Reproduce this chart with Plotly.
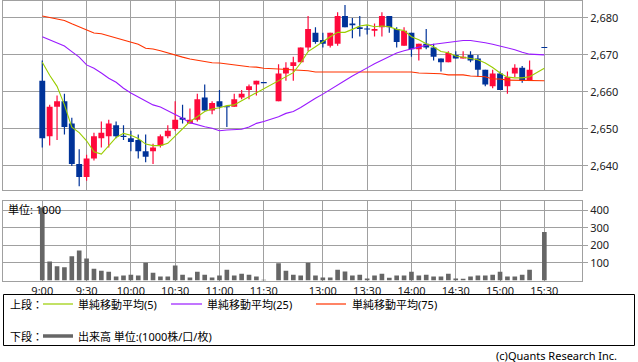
import plotly.graph_objects as go

# ---------------- data ----------------
times = [
    "9:00", "9:05", "9:10", "9:15", "9:20", "9:25", "9:30", "9:35", "9:40", "9:45",
    "9:50", "9:55", "10:00", "10:05", "10:10", "10:15", "10:20", "10:25", "10:30", "10:35",
    "10:40", "10:45", "10:50", "10:55", "11:00", "11:05", "11:10", "11:15", "11:20", "11:25",
    "11:30",
    "12:30", "12:35", "12:40", "12:45", "12:50", "12:55", "13:00", "13:05", "13:10", "13:15",
    "13:20", "13:25", "13:30", "13:35", "13:40", "13:45", "13:50", "13:55", "14:00", "14:05",
    "14:10", "14:15", "14:20", "14:25", "14:30", "14:35", "14:40", "14:45", "14:50", "14:55",
    "15:00", "15:05", "15:10", "15:15", "15:20",
    "15:30",
]

open_ = [
    2663, 2648, 2656, 2657.5, 2651.5, 2640.5, 2637, 2642, 2647.5, 2648,
    2651, 2648, 2647.5, 2647, 2644, 2644, 2645.5, 2648, 2650, 2653,
    2651.5, 2652.5, 2658.5, 2655, 2657.5, 2656, 2656, 2658.5, 2660.5, 2662,
    2662.5,
    2657.5, 2665, 2667, 2668, 2672, 2676, 2674, 2672.5, 2673, 2680.5,
    2678.5, 2677.5, 2677, 2676.5, 2677.5, 2680.5, 2677, 2672.5, 2676, 2671.5,
    2673, 2672, 2669, 2668, 2670, 2669, 2670, 2669, 2666, 2661.5,
    2665, 2661.5, 2665, 2666.5, 2663,
    2672,
]
high = [
    2668.5, 2656.5, 2659, 2659.5, 2653, 2644.5, 2643, 2649, 2652, 2652.5,
    2652, 2651, 2649.5, 2648.5, 2648.5, 2646, 2648.5, 2651, 2657.5, 2656.5,
    2655.5, 2659.5, 2662, 2657.5, 2660.5, 2656, 2659.5, 2660.5, 2662, 2663,
    2662.5,
    2667.5, 2668, 2669.5, 2672, 2680.5, 2677.5, 2676, 2676, 2681.5, 2683.5,
    2680, 2680.5, 2678, 2678.5, 2681.5, 2680.5, 2677.5, 2677.5, 2676, 2673,
    2677, 2673, 2669, 2671, 2671, 2671, 2671, 2670, 2666, 2666,
    2665.5, 2665.5, 2667.5, 2667, 2668.5,
    2672,
]
low = [
    2645, 2645.5, 2647, 2648.5, 2640, 2634.5, 2636, 2641.5, 2645, 2645,
    2647.5, 2647, 2644, 2642, 2641, 2640.5, 2645, 2647.5, 2649.5, 2651.5,
    2651.5, 2652, 2655, 2654, 2655.5, 2650.5, 2656, 2658, 2658, 2659,
    2662.5,
    2657.5, 2663, 2663, 2668, 2671, 2673, 2672, 2672, 2672.5, 2677.5,
    2674.5, 2675, 2675.5, 2675, 2675, 2676, 2672, 2672.5, 2669.5, 2668.5,
    2671.5, 2668.5, 2665.5, 2668, 2669, 2669, 2668, 2664, 2661.5, 2661,
    2660.5, 2659.5, 2664, 2662.5, 2663,
    2672,
]
close = [
    2647.5, 2656, 2657.5, 2650.5, 2640.5, 2637, 2642, 2648, 2649, 2651.5,
    2648, 2648, 2646.5, 2644, 2642.5, 2645, 2648, 2649.5, 2652.5, 2652.5,
    2652.5, 2658, 2655, 2657, 2656, 2656, 2658, 2659.5, 2661.5, 2663,
    2662.5,
    2665, 2666.5, 2668, 2672, 2677, 2673.5, 2673, 2676, 2680.5, 2677.5,
    2678, 2677, 2677, 2677, 2680.5, 2677.5, 2673.5, 2676.5, 2671.5, 2673,
    2672, 2669.5, 2668, 2670.5, 2669, 2669.5, 2668.5, 2666, 2662, 2665,
    2660.5, 2664, 2666.5, 2663, 2666,
    2672,
]
ma5 = [
    2668, 2664.5, 2661.5, 2656.5, 2650.5, 2649, 2646.8, 2643.8, 2643.2, 2645.4,
    2647.7, 2648.8, 2648.3, 2647.4, 2645.9, 2645.5, 2645.5, 2646.1, 2648.1, 2650.2,
    2652, 2653.3, 2654.7, 2655.4, 2655.7, 2656.3, 2656.5, 2657.6, 2658.7, 2659.7,
    2661,
    2663.2, 2664.3, 2665.2, 2667.8, 2670.9, 2672.2, 2673.6, 2674.9, 2676.1, 2676.1,
    2676.9, 2677.8, 2678.1, 2677.6, 2677.8, 2677.6, 2676.9, 2676.6, 2674.9, 2674.1,
    2673, 2672.2, 2670.9, 2670.6, 2669.7, 2669.4, 2669.1, 2668.7, 2667.8, 2666.6,
    2665.1, 2664, 2663.8, 2663.8, 2664.1,
    2666.4,
]
ma25 = [
    2674.9, 2674.1, 2673.3, 2672.4, 2670.9, 2669.4, 2667.3, 2666.4, 2665.1, 2663.7,
    2662.6, 2661, 2659.7, 2658.7, 2657.6, 2656.5, 2655.9, 2654.9, 2654, 2652.9,
    2651.7, 2651.1, 2650.6, 2650.2, 2649.5, 2649.7, 2649.7, 2649.9, 2650.5, 2651.5,
    2652,
    2653.3, 2654.2, 2654.7, 2655.8, 2657.1, 2658.3, 2659.4, 2660.7, 2661.9, 2663.1,
    2664.3, 2665.5, 2666.5, 2667.6, 2668.6, 2669.4, 2670.5, 2671.1, 2671.5, 2672.1,
    2672.6, 2672.9, 2673.2, 2673.3, 2673.6, 2673.9, 2673.9, 2673.7, 2673.3, 2672.9,
    2672.4, 2672, 2671.4, 2670.7, 2670.2,
    2670,
]
ma75 = [
    2680.5, 2680.1, 2679.7, 2679.3, 2678.4, 2677.6, 2676.6, 2675.9, 2675.7, 2675.1,
    2674.5, 2674.1, 2673.4, 2672.9, 2671.8, 2671.6, 2671.1, 2670.5, 2669.8, 2669.4,
    2668.9, 2668.5, 2668.2, 2667.9, 2667.8, 2667.5, 2667.3, 2667.1, 2666.8, 2666.7,
    2666.4,
    2666.2, 2666.1, 2665.8, 2665.7, 2665.7, 2665.4, 2665.4, 2665.4, 2665.4, 2665.4,
    2665.4, 2665.4, 2665.4, 2665.4, 2665.4, 2665.4, 2665.4, 2665.4, 2665.4, 2665.1,
    2665.1, 2664.9, 2664.9, 2664.6, 2664.6, 2664.6, 2664.3, 2664.3, 2664.1, 2663.5,
    2663.5, 2663.2, 2663.2, 2663.2, 2663.2,
    2663,
]
volume = [
    417, 108, 81, 75, 138, 171, 125, 67, 56, 50,
    23, 29, 33, 29, 102, 44, 23, 23, 85, 33,
    17, 50, 33, 17, 29, 62, 29, 38, 33, 23,
    4,
    98, 56, 33, 29, 102, 29, 17, 17, 62, 52,
    29, 33, 12, 29, 38, 15, 29, 29, 50, 29,
    33, 23, 23, 38, 12, 10, 23, 29, 29, 33,
    50, 23, 23, 33, 62,
    277,
]
tick_labels = ["9:00", "9:30", "10:00", "10:30", "11:00", "11:30",
               "13:00", "13:30", "14:00", "14:30", "15:00", "15:30"]
price_ticks = [2640, 2650, 2660, 2670, 2680]
volume_ticks = [100, 200, 300, 400]

# ---------------- helpers ----------------
W, H = 638, 362


def slot_of(t):
    """5-minute slot index; one empty slot separates the two sessions."""
    h, m = map(int, t.split(":"))
    mins = h * 60 + m
    if mins <= 11 * 60 + 30:
        return (mins - 9 * 60) / 5
    return (mins - (12 * 60 + 30)) / 5 + 32


def px(xp):
    return xp / W


def py(yp):
    return 1 - yp / H


xs = [slot_of(t) for t in times]
tick_x = [slot_of(t) for t in tick_labels]

RED = "#ff0a3c"
BLUE = "#003399"
GRID = "#a0a0a0"
FONT = "Noto Sans, Noto Sans CJK JP, sans-serif"

fig = go.Figure()

# wicks & bodies
for is_up, col in ((True, RED), (False, BLUE)):
    wx, wy, bx, bb, bh = [], [], [], [], []
    for x, o, h, l, c in zip(xs, open_, high, low, close):
        if (c > o) != is_up:
            continue
        wx += [x, x, None]
        wy += [l, h, None]
        lo, hgt = min(o, c), abs(c - o)
        if hgt < 0.3:
            lo -= (0.3 - hgt) / 2
            hgt = 0.3
        bx.append(x)
        bb.append(lo)
        bh.append(hgt)
    fig.add_trace(go.Scatter(x=wx, y=wy, mode="lines", line=dict(color=col, width=1.2),
                             xaxis="x", yaxis="y", hoverinfo="skip", showlegend=False))
    fig.add_trace(go.Bar(x=bx, y=bh, base=bb, width=0.8, marker=dict(color=col, line=dict(width=0)),
                         xaxis="x", yaxis="y", showlegend=False))

# moving averages
for vals, col in ((ma75, "#ff3300"), (ma25, "#9a1aff"), (ma5, "#9acd00")):
    fig.add_trace(go.Scatter(x=xs, y=vals, mode="lines", line=dict(color=col, width=1.1),
                             xaxis="x", yaxis="y", showlegend=False))

# volume
fig.add_trace(go.Bar(x=xs, y=volume, width=0.63, marker=dict(color="#666666", line=dict(width=0)),
                     xaxis="x2", yaxis="y2", showlegend=False))

xcommon = dict(range=[-5.32, 73.1], tickvals=tick_x, showgrid=True, gridcolor=GRID, gridwidth=1,
               showline=True, linecolor=GRID, linewidth=1, mirror=True, zeroline=False,
               ticks="", domain=[px(3), px(582)], fixedrange=True)
ycommon = dict(side="right", showgrid=True, gridcolor=GRID, gridwidth=1, showline=True,
               linecolor=GRID, linewidth=1, mirror=True, zeroline=False, ticks="outside",
               ticklen=5, tickcolor=GRID, tickfont=dict(family=FONT, size=11, color="#222"),
               fixedrange=True)

fig.update_layout(
    width=W, height=H, margin=dict(l=0, r=0, t=0, b=0),
    paper_bgcolor="white", plot_bgcolor="white", barmode="overlay", hovermode=False,
    xaxis=dict(**xcommon, anchor="y", showticklabels=False),
    xaxis2=dict(**xcommon, anchor="y2", matches="x", ticktext=tick_labels, showticklabels=True,
                tickfont=dict(family=FONT, size=11, color="#222")),
    yaxis=dict(**ycommon, domain=[py(190), py(0.5)], range=[2633.5, 2684.7],
               tickvals=price_ticks, tickformat=",d"),
    yaxis2=dict(**ycommon, domain=[py(280.5), py(201)], range=[0, 454], tickvals=volume_ticks),
)

# legend box and labels
shapes = [dict(type="rect", xref="paper", yref="paper", x0=px(3.5), x1=px(634.5), y0=py(345.5), y1=py(294.5),
               line=dict(color="#000", width=1))]
for x0, x1, yy, col, wd in ((43, 73, 304, "#9acd00", 1.2), (171, 202, 304, "#9a1aff", 1.2),
                            (316, 346, 304, "#ff3300", 1.2), (43, 73, 336, "#666666", 3.5)):
    shapes.append(dict(type="line", xref="paper", yref="paper", x0=px(x0), x1=px(x1), y0=py(yy), y1=py(yy),
                       line=dict(color=col, width=wd)))
fig.update_layout(shapes=shapes)

texts = [
    ("上段：", 9, 304, "left"),
    ("単純移動平均(5)", 77, 304, "left"),
    ("単純移動平均(25)", 206, 304, "left"),
    ("単純移動平均(75)", 351, 304, "left"),
    ("下段：", 9, 336, "left"),
    ("出来高 単位:(1000株/口/枚)", 77, 336, "left"),
    ("単位: 1000", 7, 209, "left"),
    ("(c)Quants Research Inc.", 618, 355, "right"),
]
fig.update_layout(annotations=[
    dict(text=t, x=px(x), y=py(y), xref="paper", yref="paper", xanchor=a, yanchor="middle",
         showarrow=False, font=dict(family=FONT, size=11, color="#000"), borderpad=0)
    for t, x, y, a in texts
])

fig.write_html("out.html", config={"displayModeBar": False, "staticPlot": True},
               post_script="document.body.style.margin='0';document.body.style.overflow='hidden';")
